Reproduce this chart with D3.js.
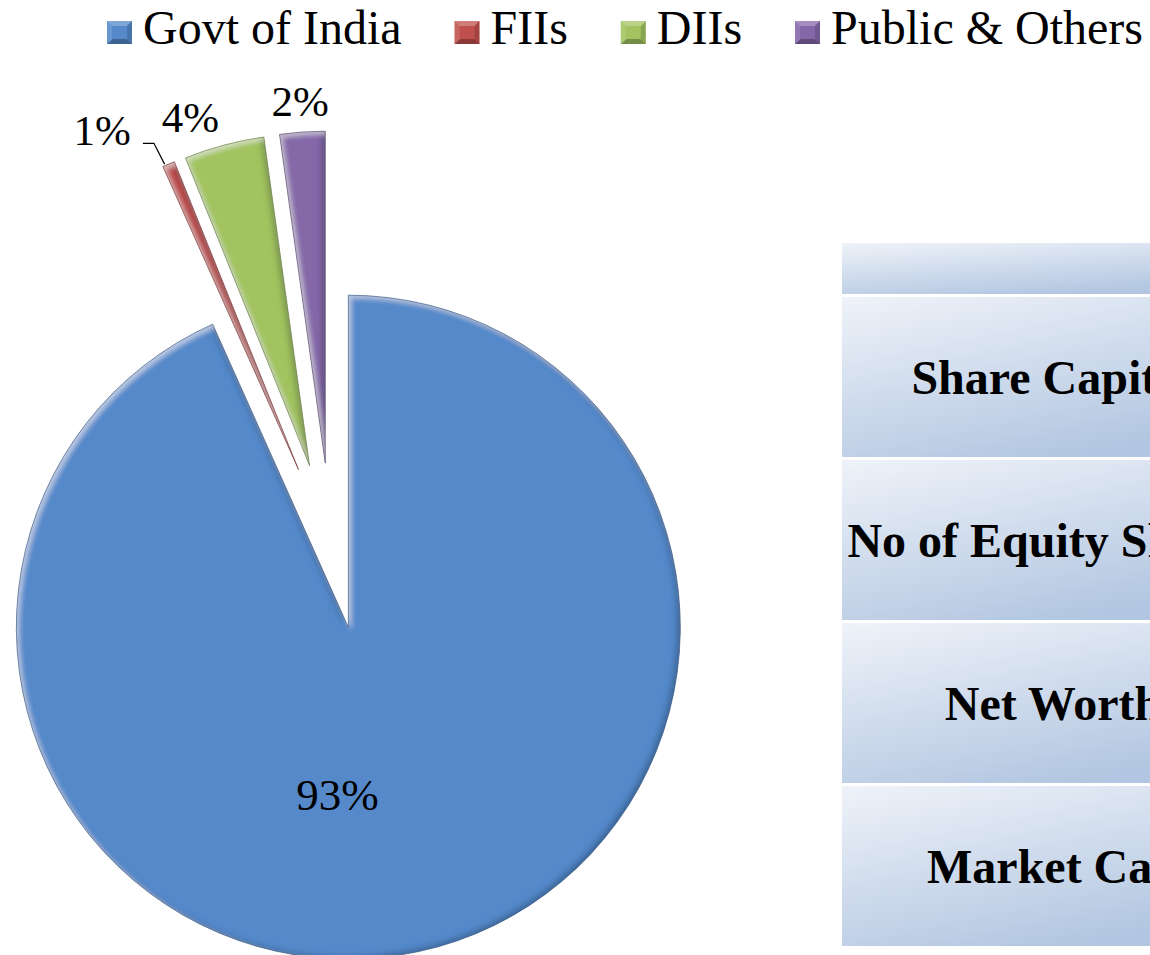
<!DOCTYPE html>
<html>
<head>
<meta charset="utf-8">
<script src="https://cdn.jsdelivr.net/npm/d3@7"></script>
<style>
  html, body { margin: 0; padding: 0; background: #fff; }
  svg { display: block; }
</style>
</head>
<body>
<div id="chart"></div>
<script>
// shareholding pattern
const categories = ["Govt of India", "FIIs", "DIIs", "Public & Others"];
const shares = [93.3, 0.6, 3.9, 2.2];
const colors = ["#5589ca", "#c0504d", "#a2c35f", "#8467a8"];

// rows of the side table (only the left part is visible)
const tableRows = ["", "Share Capital", "No of Equity Shares", "Net Worth", "Market Cap"];

const width = 1150, height = 955;
const pieCenter = { x: 331, y: 546 };
const radius = 332;
const explode = 83;
// excel moved some labels sideways to avoid each other
const labelNudge = [15.8, -7, -3.9, 0];
const labelRadius = [167, 392, 369, 363];

const svg = d3.select("#chart").append("svg")
    .attr("width", width)
    .attr("height", height)
    .style("font-family", "'Liberation Serif', 'Times New Roman', serif");

const defs = svg.append("defs");

// bevel-ish look: dark inner edge bottom-right, light inner edge top-left
// (region is in the slice's local coords, slices are translated to their centre)
const bevel = defs.append("filter")
    .attr("id", "bevel")
    .attr("filterUnits", "userSpaceOnUse")
    .attr("x", -radius - 20).attr("y", -radius - 20)
    .attr("width", 2 * radius + 40).attr("height", 2 * radius + 40);
bevel.append("feComponentTransfer").attr("in", "SourceAlpha").attr("result", "inv")
    .append("feFuncA").attr("type", "table").attr("tableValues", "1 0");
bevel.append("feOffset").attr("in", "inv").attr("dx", -3).attr("dy", -2).attr("result", "invDR");
bevel.append("feGaussianBlur").attr("in", "invDR").attr("stdDeviation", 3).attr("result", "blurDR");
bevel.append("feFlood").attr("flood-color", "#0b1a33").attr("flood-opacity", 0.55).attr("result", "darkCol");
bevel.append("feComposite").attr("in", "darkCol").attr("in2", "blurDR").attr("operator", "in").attr("result", "dark");
bevel.append("feComposite").attr("in", "dark").attr("in2", "SourceAlpha").attr("operator", "in").attr("result", "darkIn");
bevel.append("feOffset").attr("in", "inv").attr("dx", 3).attr("dy", 3).attr("result", "invUL");
bevel.append("feGaussianBlur").attr("in", "invUL").attr("stdDeviation", 2.5).attr("result", "blurUL");
bevel.append("feFlood").attr("flood-color", "#ffffff").attr("flood-opacity", 0.45).attr("result", "lightCol");
bevel.append("feComposite").attr("in", "lightCol").attr("in2", "blurUL").attr("operator", "in").attr("result", "light");
bevel.append("feComposite").attr("in", "light").attr("in2", "SourceAlpha").attr("operator", "in").attr("result", "lightIn");
const merge = bevel.append("feMerge");
merge.append("feMergeNode").attr("in", "SourceGraphic");
merge.append("feMergeNode").attr("in", "darkIn");
merge.append("feMergeNode").attr("in", "lightIn");

const cellGrad = defs.append("linearGradient")
    .attr("id", "cellGrad")
    .attr("x1", 0).attr("y1", 0).attr("x2", 0.55).attr("y2", 1);
cellGrad.append("stop").attr("offset", "0%").attr("stop-color", "#eff3f9");
cellGrad.append("stop").attr("offset", "100%").attr("stop-color", "#b2c6e1");

// ---- pie ----
const pie = d3.pie().sort(null).value(d => d);
const arcs = pie(shares);
const arc = d3.arc().innerRadius(0).outerRadius(radius);

function sliceCenter(d) {
    const mid = (d.startAngle + d.endAngle) / 2;
    return { x: pieCenter.x + Math.sin(mid) * explode, y: pieCenter.y - Math.cos(mid) * explode };
}

const slices = svg.append("g");
slices.selectAll("path")
    .data(arcs)
    .enter().append("path")
    .attr("transform", d => { const c = sliceCenter(d); return `translate(${c.x},${c.y})`; })
    .attr("d", arc)
    .attr("fill", (d, i) => colors[i])
    .attr("filter", "url(#bevel)");

// thin dark outline at the slice rims
slices.selectAll("path.rim")
    .data(arcs)
    .enter().append("path")
    .attr("class", "rim")
    .attr("transform", d => { const c = sliceCenter(d); return `translate(${c.x},${c.y})`; })
    .attr("d", arc)
    .attr("fill", "none")
    .attr("stroke", (d, i) => d3.color(colors[i]).darker(1.4))
    .attr("stroke-width", 1)
    .attr("stroke-opacity", 0.6);

// ---- data labels ----
const labels = svg.append("g");
arcs.forEach((d, i) => {
    const c = sliceCenter(d);
    const ang = (d.startAngle + d.endAngle) / 2 + labelNudge[i] * Math.PI / 180;
    const lx = c.x + Math.sin(ang) * labelRadius[i];
    const ly = c.y - Math.cos(ang) * labelRadius[i];
    const t = labels.append("text")
        .attr("x", lx)
        .attr("y", ly)
        .attr("dy", "0.35em")
        .attr("text-anchor", "middle")
        .attr("font-size", i === 0 ? 45 : 43)
        .attr("fill", "#000")
        .text(Math.round(shares[i]) + "%");

    if (i === 1) {
        // leader line from the label to the slim slice tip
        const w = t.node().getComputedTextLength();
        const mid = (d.startAngle + d.endAngle) / 2;
        const tip = { x: c.x + Math.sin(mid) * radius, y: c.y - Math.cos(mid) * radius };
        const sx = lx + w / 2 + 12, sy = ly + 13;
        labels.append("path")
            .attr("d", `M${sx},${sy} L${sx + 11},${sy} L${tip.x - 4},${tip.y}`)
            .attr("fill", "none")
            .attr("stroke", "#000")
            .attr("stroke-width", 1.2);
    }
});

// ---- legend ----
// items are spread across the top, from legendLeft to legendRight
const legendLeft = 107, legendRight = 1143, markerGap = 36, s = 25;
const legend = svg.append("g");
const items = categories.map((name, i) => {
    const g = legend.append("g");
    g.append("rect").attr("width", s).attr("height", s - 2).attr("fill", colors[i]);
    // pyramid shading
    g.append("path").attr("d", `M0,0 L${s},0 L${s / 2},${s / 2} Z`).attr("fill", "#fff").attr("opacity", 0.25);
    g.append("path").attr("d", `M0,0 L0,${s - 2} L${s / 2},${s / 2} Z`).attr("fill", "#fff").attr("opacity", 0.12);
    g.append("path").attr("d", `M${s},0 L${s},${s - 2} L${s / 2},${s / 2} Z`).attr("fill", "#000").attr("opacity", 0.15);
    g.append("path").attr("d", `M0,${s - 2} L${s},${s - 2} L${s / 2},${s / 2} Z`).attr("fill", "#000").attr("opacity", 0.28);
    g.append("rect").attr("x", 5).attr("y", 5).attr("width", s - 10).attr("height", s - 12)
        .attr("fill", colors[i]);
    const t = g.append("text")
        .attr("x", markerGap)
        .attr("y", 23)
        .attr("font-size", 48)
        .attr("fill", "#000")
        .text(name);
    return { g, w: markerGap + t.node().getComputedTextLength() };
});
const totalW = d3.sum(items, d => d.w);
const itemGap = (legendRight - legendLeft - totalW) / (items.length - 1);
let lx = legendLeft;
items.forEach(it => {
    it.g.attr("transform", `translate(${lx},21)`);
    lx += it.w + itemGap;
});

// ---- side table ----
const table = svg.append("g");
const tableX = 842, tableW = 422, tableTop = 243, headH = 51, rowH = 160, gap = 3;
let ry = tableTop;
tableRows.forEach((name, i) => {
    const h = i === 0 ? headH : rowH;
    table.append("rect")
        .attr("x", tableX)
        .attr("y", ry)
        .attr("width", tableW)
        .attr("height", h)
        .attr("fill", "url(#cellGrad)");
    if (name) {
        table.append("text")
            .attr("x", tableX + tableW / 2)
            .attr("y", ry + h / 2)
            .attr("dy", "0.35em")
            .attr("text-anchor", "middle")
            .attr("font-size", 48)
            .attr("font-weight", "bold")
            .attr("fill", "#000")
            .text(name);
    }
    ry += h + gap;
});
</script>
</body>
</html>
